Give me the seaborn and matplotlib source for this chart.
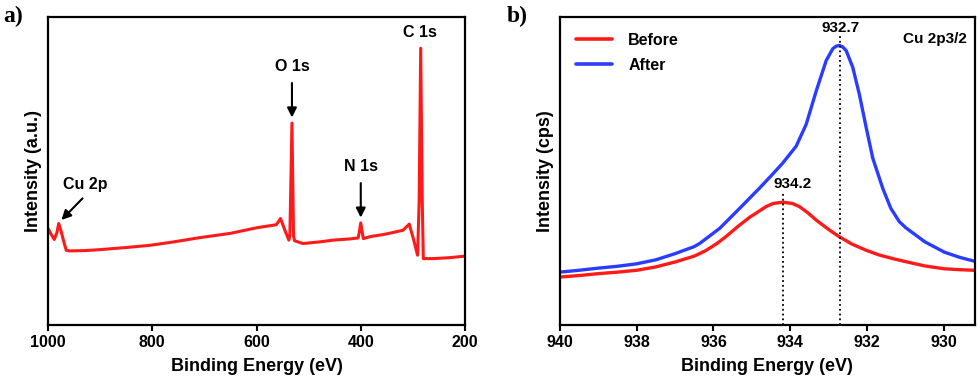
import matplotlib
matplotlib.use('Agg')
import matplotlib.pyplot as plt
import seaborn as sns
import pandas as pd

# panel a: survey spectrum (arbitrary units)
survey_ev = [1000, 994, 988, 983, 979.5, 975, 968, 965, 959, 930, 901, 850, 805, 760, 709, 650,
             600, 562, 554, 546, 538, 536, 532, 529, 527, 511, 480, 453, 420, 405, 403, 400,
             397, 395, 380, 357, 340, 319, 307, 299, 291, 288, 285, 282, 280, 261, 230, 200]
survey_int = [31.4, 29.5, 27.8, 30.0, 33.0, 30.5, 26.0, 24.3, 24.1, 24.2, 24.5, 25.2, 25.9, 27.0, 28.4, 29.8,
              31.6, 32.6, 34.6, 31.0, 27.6, 29.0, 65.6, 29.0, 27.4, 26.5, 27.0, 27.6, 28.0, 28.3, 30.0, 33.2,
              30.0, 28.1, 28.8, 29.4, 30.0, 30.8, 32.8, 28.0, 22.7, 40.0, 89.9, 40.0, 21.6, 21.6, 21.9, 22.4]

# panel b: Cu 2p3/2 high resolution
before_ev = [940, 939.5, 939, 938.5, 938, 937.5, 937, 936.5, 936.2, 935.9, 935.67, 935.35, 935.06, 934.63,
             934.45, 934.2, 933.95, 933.77, 933.55, 933.33, 933.0, 932.73, 932.4, 932.03, 931.7, 931.34,
             931, 930.5, 930, 929.6, 929.2]
before = [15.6, 16.1, 16.7, 17.2, 17.8, 18.9, 20.5, 22.4, 24.2, 26.6, 28.8, 32.2, 35.0, 38.5,
          39.5, 39.9, 39.5, 38.5, 36.5, 34.1, 31.0, 28.7, 26.3, 24.3, 22.8, 21.6,
          20.6, 19.2, 18.3, 18.0, 17.8]
after_ev = [940, 939.5, 939, 938.5, 938, 937.5, 937, 936.5, 936.36, 935.84, 935.32, 934.81, 934.5,
            934.2, 933.85, 933.59, 933.33, 933.07, 932.9, 932.82, 932.74, 932.65, 932.55, 932.38,
            932.21, 932.03, 931.86, 931.6, 931.39, 931.17, 931, 930.5, 930, 929.6, 929.2]
after = [17.2, 17.8, 18.5, 19.1, 19.9, 21.2, 23.2, 25.5, 26.5, 31.4, 37.9, 44.4, 48.5,
         52.6, 58.1, 65.2, 76.0, 85.9, 89.7, 90.5, 90.8, 90.4, 89.1, 83.7,
         75.0, 64.1, 54.2, 44.4, 37.9, 33.6, 31.6, 27.0, 23.7, 22.0, 20.7]

peak_before = 934.2
peak_after = 932.7

sns.set_style('white')
plt.rcParams['font.family'] = ['Liberation Sans', 'DejaVu Sans']
plt.rcParams['font.weight'] = 'bold'
plt.rcParams['axes.labelweight'] = 'bold'
plt.rcParams['text.color'] = 'black'
plt.rcParams['axes.labelcolor'] = 'black'
plt.rcParams['xtick.color'] = 'black'

fig = plt.figure(figsize=(9.8, 3.88), dpi=100)
ax1 = fig.add_axes([0.049, 0.162, 0.4255, 0.794])
ax2 = fig.add_axes([0.571, 0.162, 0.424, 0.794])

df_a = pd.DataFrame({'ev': survey_ev, 'intensity': survey_int})
sns.lineplot(data=df_a, x='ev', y='intensity', ax=ax1, color='#ff1a1a', lw=2.2, sort=False)
ax1.set_xlim(1000, 200)
ax1.set_ylim(0, 100)
ax1.set_xticks([1000, 800, 600, 400, 200])
ax1.set(xlabel='Binding Energy (eV)', ylabel='Intensity (a.u.)')

arrow = dict(arrowstyle='-|>', color='black', lw=1.5, mutation_scale=14)
ann = dict(fontsize=11.5, fontweight='bold', ha='center', va='center')
ax1.text(286, 95, 'C 1s', **ann)
ax1.annotate('', xy=(532, 66.5), xytext=(532, 79.5), arrowprops=arrow)
ax1.text(532, 84, 'O 1s', **ann)
ax1.annotate('', xy=(400, 34), xytext=(400, 47), arrowprops=arrow)
ax1.text(400, 51.4, 'N 1s', **ann)
ax1.annotate('', xy=(978, 33.5), xytext=(930, 41.8), arrowprops=arrow)
ax1.text(928, 45.8, 'Cu 2p', **ann)

df_b = pd.DataFrame({'ev': before_ev + after_ev, 'intensity': before + after,
                     'sample': ['Before'] * len(before_ev) + ['After'] * len(after_ev)})
sns.lineplot(data=df_b, x='ev', y='intensity', hue='sample', ax=ax2,
             palette={'Before': '#ff1a1a', 'After': '#2a3cff'}, lw=2.4, sort=False)
ax2.set_xlim(940, 929.2)
ax2.set_ylim(0, 100)
ax2.set_xticks([940, 938, 936, 934, 932, 930])
ax2.set(xlabel='Binding Energy (eV)', ylabel='Intensity (cps)')
ax2.vlines([peak_before], 0, 42.5, colors='black', linestyles=':', lw=1.3)
ax2.vlines([peak_after], 0, 94, colors='black', linestyles=':', lw=1.3)
ax2.text(peak_before - 0.25, 45.8, '934.2', fontsize=11, fontweight='bold', ha='center', va='center')
ax2.text(peak_after, 96.5, '932.7', fontsize=11, fontweight='bold', ha='center', va='center')
ax2.text(0.98, 0.93, 'Cu 2p3/2', transform=ax2.transAxes, fontsize=11, fontweight='bold',
         ha='right', va='center')
leg = ax2.legend(loc='upper left', frameon=False, fontsize=11.5, handlelength=2.3,
                 borderaxespad=0.6, handletextpad=1.0, labelspacing=0.6)
for line in leg.get_lines():
    line.set_linewidth(2.6)

for ax in (ax1, ax2):
    ax.set_yticks([])
    for s in ax.spines.values():
        s.set_linewidth(1.6)
        s.set_color('black')
    ax.tick_params(axis='x', direction='out', length=4, width=1.5, labelsize=11.5, pad=3, bottom=True)
    for lab in ax.get_xticklabels():
        lab.set_fontweight('bold')
    ax.xaxis.label.set_size(13)
    ax.yaxis.label.set_size(13)
    ax.xaxis.labelpad = 6
    ax.yaxis.labelpad = 4

fig.text(0.003, 0.985, 'a)', fontsize=17, fontweight='bold', family='Liberation Serif', va='top')
fig.text(0.517, 0.985, 'b)', fontsize=17, fontweight='bold', family='Liberation Serif', va='top')

fig.savefig('out.png', dpi=100)
